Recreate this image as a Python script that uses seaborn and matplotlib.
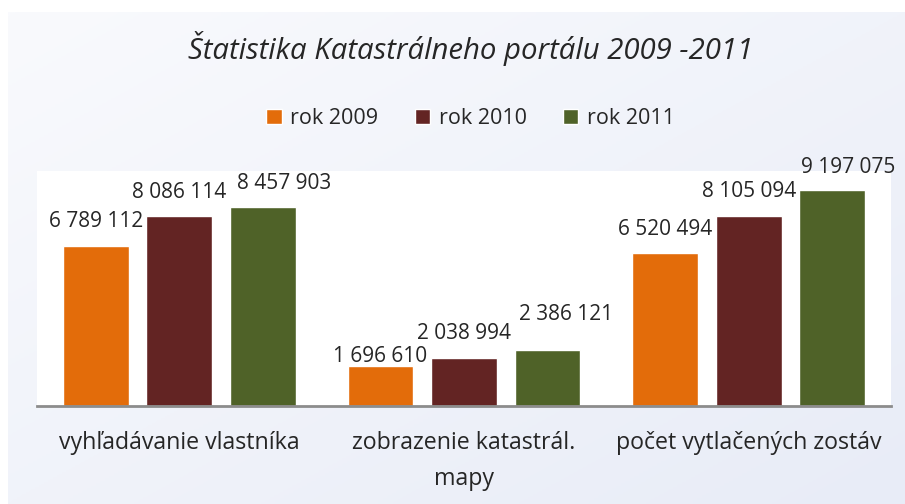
import numpy as np
import pandas as pd
import matplotlib.pyplot as plt
from matplotlib.colors import LinearSegmentedColormap
import seaborn as sns

# Data
categories = ['vyhľadávanie vlastníka', 'zobrazenie katastrál.\nmapy', 'počet vytlačených zostáv']
years = ['rok 2009', 'rok 2010', 'rok 2011']
values_2009 = [6789112, 1696610, 6520494]
values_2010 = [8086114, 2038994, 8105094]
values_2011 = [8457903, 2386121, 9197075]
colors = ['#E36C0A', '#632423', '#4F6228']

# label placement (pixels from bar top centre), one row per year
label_dx = [[0, 0, 0], [0, 0, 0], [21, 19, 16]]
label_dy = [[19, 4, 18], [18, 19, 19], [18, 30, 17]]

df = pd.DataFrame({
    'kategoria': categories * 3,
    'rok': np.repeat(years, len(categories)),
    'pocet': values_2009 + values_2010 + values_2011,
})

sns.set_style('white')
plt.rcParams['font.family'] = ['Open Sans', 'DejaVu Sans']

fig = plt.figure(figsize=(9.05, 5.04), dpi=100)

# light gradient chart background
bg = fig.add_axes([8 / 905, 0, 1 - 8 / 905, 1 - 12 / 504], zorder=-10)
gx, gy = np.meshgrid(np.linspace(0, 1, 200), np.linspace(0, 1, 200))
grad = (gx + gy) / 2
bg_cmap = LinearSegmentedColormap.from_list('bg', ['#F9FAFD', '#E8ECF7'])
bg.imshow(grad, aspect='auto', cmap=bg_cmap, extent=[0, 1, 0, 1])
bg.axis('off')

ax = fig.add_axes([37 / 905, 98 / 504, 854 / 905, 235 / 504])
ax.set_facecolor('white')
sns.barplot(data=df, x='kategoria', y='pocet', hue='rok', palette=colors,
            width=0.88, gap=0.21, saturation=1, ax=ax)

for i, cont in enumerate(ax.containers):
    for j, bar in enumerate(cont):
        v = bar.get_height()
        ax.annotate(f'{v:,.0f}'.replace(',', ' '),
                    xy=(bar.get_x() + bar.get_width() / 2, v),
                    xytext=(label_dx[i][j], label_dy[i][j]), textcoords='offset pixels',
                    ha='center', va='baseline', fontsize=15)

ax.set_ylim(0, 10_000_000)
ax.set_xlim(-0.5, 2.5)
ax.set_yticks([])
ax.set_xlabel('')
ax.set_ylabel('')
ax.tick_params(axis='x', length=0, pad=18, labelsize=16.7)
for t in ax.get_xticklabels():
    t.set_linespacing(1.65)
for s in ['top', 'left', 'right']:
    ax.spines[s].set_visible(False)
ax.spines['bottom'].set_color('#8C8C8C')
ax.spines['bottom'].set_linewidth(2)

ax.legend_.remove()
handles, labels = ax.get_legend_handles_labels()
fig.legend(handles, labels, loc='center', bbox_to_anchor=(0.52, 0.765), ncol=3,
           frameon=False, fontsize=15.5, handlelength=0.7, handleheight=0.7,
           handletextpad=0.4, columnspacing=1.7)

fig.text(0.52, 0.903, 'Štatistika Katastrálneho portálu 2009 -2011',
         ha='center', va='center', fontsize=21.2, style='italic')

fig.savefig('out.png', dpi=100)
